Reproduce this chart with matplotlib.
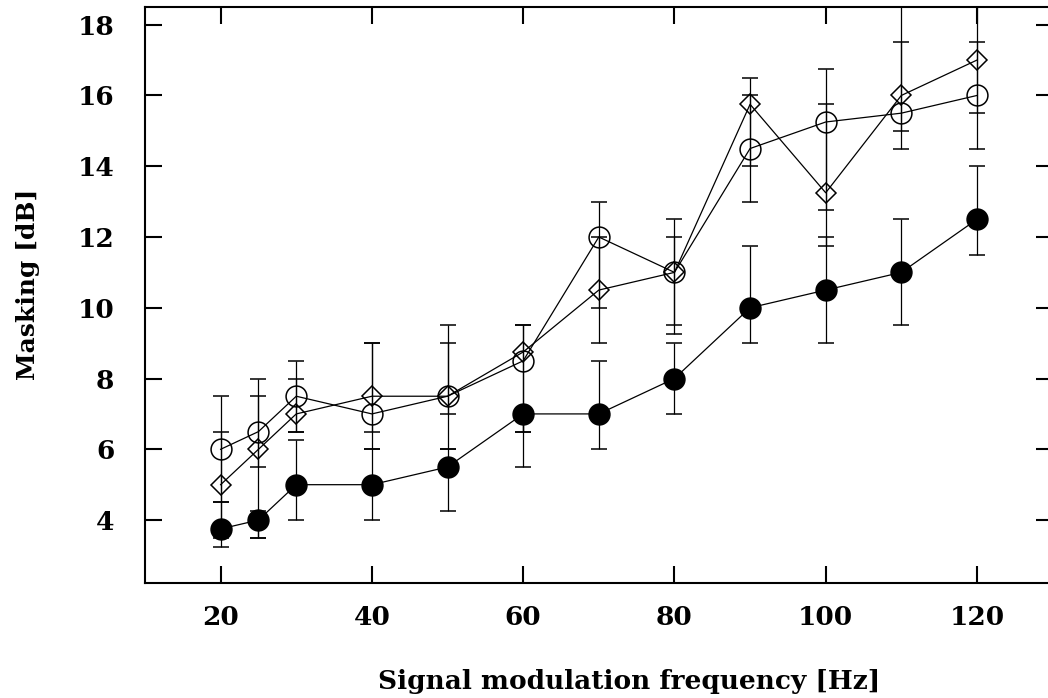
import numpy as np
import matplotlib
matplotlib.use("Agg")
import matplotlib.pyplot as plt

plt.rcParams['font.family'] = ['DejaVu Serif']
plt.rcParams['font.weight'] = 'bold'

freq = [20, 25, 30, 40, 50, 60, 70, 80, 90, 100, 110, 120]

# filled circles
filled_mean = [3.75, 4, 5, 5, 5.5, 7, 7, 8, 10, 10.5, 11, 12.5]
filled_low = [3.25, 3.5, 4, 4, 4.25, 5.5, 6, 7, 9, 9, 9.5, 11.5]
filled_high = [4.5, 4.25, 6.25, 6, 6, 7, 8.5, 9, 11.75, 12, 12.5, 14]

# open circles
circle_mean = [6, 6.5, 7.5, 7, 7.5, 8.5, 12, 11, 14.5, 15.25, 15.5, 16]
circle_low = [4.5, 5.5, 6.5, 6.5, 6, 6.5, 10, 9.5, 13, 11.75, 14.5, 14.5]
circle_high = [7.5, 8, 8.5, 9, 9.5, 9.5, 13, 12.5, 16, 16.75, 17.5, 17.5]

# open diamonds
diamond_mean = [5, 6, 7, 7.5, 7.5, 8.75, 10.5, 11, 15.75, 13.25, 16, 17]
diamond_low = [3.5, 3.5, 6.5, 6, 7, 6.5, 9, 9.25, 14, 12.75, 15, 15.5]
diamond_high = [6.5, 7.5, 8, 9, 9, 9.5, 12, 12, 16.5, 15.75, 19, 19]

fig = plt.figure(figsize=(10.48, 6.98), dpi=100)
ax = fig.add_axes([145 / 1048, 1 - 582.7 / 698, 907.6 / 1048, 575.7 / 698])


def draw(mean, low, high, marker, face, ms):
    mean = np.array(mean)
    yerr = [mean - np.array(low), np.array(high) - mean]
    ax.errorbar(freq, mean, yerr=yerr, color='black', lw=0.9, elinewidth=0.9,
                capsize=6, capthick=0.9, marker=marker, ms=ms,
                mfc=face, mec='black', mew=1.1)


draw(circle_mean, circle_low, circle_high, 'o', 'none', 15)
draw(diamond_mean, diamond_low, diamond_high, 'D', 'none', 10.5)
draw(filled_mean, filled_low, filled_high, 'o', 'black', 15)

ax.set_xlim(10, 130)
ax.set_ylim(2.23, 18.5)
ax.set_xticks([20, 40, 60, 80, 100, 120])
ax.set_yticks([4, 6, 8, 10, 12, 14, 16, 18])
ax.tick_params(direction='in', top=True, right=True, length=12, width=1.5,
               labelsize=19)
ax.tick_params(axis='x', pad=16)
ax.tick_params(axis='y', pad=22)
for s in ax.spines.values():
    s.set_linewidth(1.5)

ax.set_xlabel("Signal modulation frequency [Hz]", fontsize=19, fontweight='bold', labelpad=28)
ax.xaxis.label.set_x((629 - 145) / 907.6)
ax.set_ylabel("Masking [dB]", fontsize=18, fontweight='bold', labelpad=27)
ax.yaxis.label.set_y((582.7 - 284) / 575.7)

fig.savefig("out.png", dpi=100)
